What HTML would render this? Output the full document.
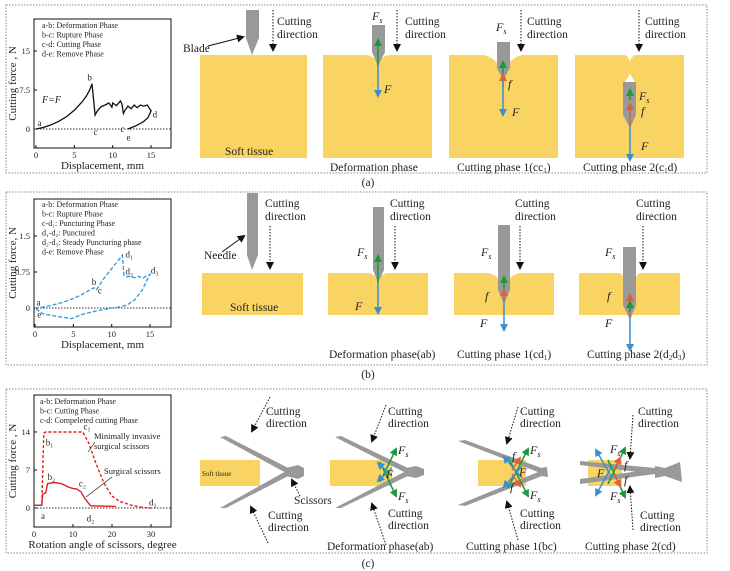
<!DOCTYPE html>
<html><head><meta charset="utf-8"><style>
html,body{margin:0;padding:0;background:#fff}
svg{display:block;font-family:"Liberation Serif",serif}
.t{font-size:11.5px;fill:#222}
.s{font-size:8.5px;fill:#222}
.it{font-style:italic;font-size:12px;fill:#222}
</style></head><body>
<svg id="fig" width="730" height="571" viewBox="0 0 730 571">
<defs>
<marker id="mk" markerWidth="8" markerHeight="8" refX="6" refY="4" orient="auto" markerUnits="userSpaceOnUse"><path d="M0,0 L8,4 L0,8Z" fill="#111"/></marker>
<marker id="mg" markerWidth="8" markerHeight="8" refX="6" refY="4" orient="auto" markerUnits="userSpaceOnUse"><path d="M0,0 L8,4 L0,8Z" fill="#1a9a3a"/></marker>
<marker id="mr" markerWidth="8" markerHeight="8" refX="6" refY="4" orient="auto" markerUnits="userSpaceOnUse"><path d="M0,0 L8,4 L0,8Z" fill="#e0603a"/></marker>
<marker id="mb" markerWidth="8" markerHeight="8" refX="6" refY="4" orient="auto" markerUnits="userSpaceOnUse"><path d="M0,0 L8,4 L0,8Z" fill="#3a8fd0"/></marker>
</defs>
<!-- panel borders -->
<rect x="6" y="5" width="701" height="168" fill="none" stroke="#888" stroke-dasharray="1.5,1.5"/>
<rect x="6" y="192" width="701" height="173" fill="none" stroke="#888" stroke-dasharray="1.5,1.5"/>
<rect x="6" y="389" width="701" height="164" fill="none" stroke="#888" stroke-dasharray="1.5,1.5"/>
<text class="t" x="368" y="186" text-anchor="middle">(a)</text>
<text class="t" x="368" y="378" text-anchor="middle">(b)</text>
<text class="t" x="368" y="567" text-anchor="middle">(c)</text>

<!-- ===== PANEL A illustrations ===== -->
<g>
<rect x="200" y="55" width="107" height="103" fill="#fad462"/>
<path d="M246,10 L259,10 L259,38 L252,55 L246,38Z" fill="#999"/>
<line x1="208" y1="46" x2="243" y2="37" stroke="#111" marker-end="url(#mk)"/>
<text class="t" x="183" y="52">Blade</text>
<line x1="273" y1="10" x2="273" y2="50" stroke="#111" stroke-dasharray="1.5,1.5" marker-end="url(#mk)"/>
<text class="t" x="277" y="25">Cutting</text><text class="t" x="277" y="38">direction</text>
<text class="t" x="225" y="155">Soft tissue</text>
</g>
<g>
<path d="M323,55 L366,55 Q376,56 378,66 Q380,56 390,55 L432,55 L432,158 L323,158Z" fill="#fad462"/>
<path d="M372,25 L385,25 L385,52 L378,66 L372,52Z" fill="#999"/>
<line x1="378" y1="66" x2="378" y2="40" stroke="#1a9a3a" stroke-width="1.5" marker-end="url(#mg)"/>
<line x1="378" y1="66" x2="378" y2="96" stroke="#3a8fd0" stroke-width="1.5" marker-end="url(#mb)"/>
<text class="it" x="372" y="20">F<tspan font-size="8" dy="3">s</tspan></text>
<text class="it" x="384" y="93">F</text>
<line x1="397" y1="10" x2="397" y2="50" stroke="#111" stroke-dasharray="1.5,1.5" marker-end="url(#mk)"/>
<text class="t" x="405" y="25">Cutting</text><text class="t" x="405" y="38">direction</text>
<text class="t" x="330" y="171">Deformation phase</text>
</g>
<g>
<path d="M449,55 L484,55 Q496,58 503,72 Q510,58 522,55 L558,55 L558,158 L449,158Z" fill="#fad462"/>
<path d="M497,42 L510,42 L510,68 L503,80 L497,68Z" fill="#999"/>
<line x1="503" y1="80" x2="503" y2="62" stroke="#1a9a3a" stroke-width="1.5" marker-end="url(#mg)"/>
<line x1="503" y1="88" x2="503" y2="75" stroke="#e0603a" stroke-width="1.5" marker-end="url(#mr)"/>
<line x1="503" y1="80" x2="503" y2="115" stroke="#3a8fd0" stroke-width="1.5" marker-end="url(#mb)"/>
<text class="it" x="496" y="31">F<tspan font-size="8" dy="3">s</tspan></text>
<text class="it" x="508" y="88">f</text>
<text class="it" x="512" y="116">F</text>
<line x1="521" y1="10" x2="521" y2="50" stroke="#111" stroke-dasharray="1.5,1.5" marker-end="url(#mk)"/>
<text class="t" x="527" y="25">Cutting</text><text class="t" x="527" y="38">direction</text>
<text class="t" x="457" y="171">Cutting phase 1(cc<tspan font-size="7" dy="2">1</tspan><tspan dy="-2">)</tspan></text>
</g>
<g>
<path d="M575,55 L625,55 Q629,57 630,62 Q631,57 635,55 L684,55 L684,158 L575,158Z" fill="#fad462"/>
<path d="M625,82 L630,74 L635,82Z" fill="#fff"/>
<path d="M623,82 L636,82 L636,115 L630,128 L623,115Z" fill="#999"/>
<line x1="630" y1="100" x2="630" y2="90" stroke="#1a9a3a" stroke-width="1.5" marker-end="url(#mg)"/>
<line x1="630" y1="126" x2="630" y2="104" stroke="#e0603a" stroke-width="1.5" marker-end="url(#mr)"/>
<line x1="630" y1="126" x2="630" y2="160" stroke="#3a8fd0" stroke-width="1.5" marker-end="url(#mb)"/>
<text class="it" x="639" y="100">F<tspan font-size="8" dy="3">s</tspan></text>
<text class="it" x="641" y="115">f</text>
<text class="it" x="641" y="150">F</text>
<line x1="639" y1="10" x2="639" y2="50" stroke="#111" stroke-dasharray="1.5,1.5" marker-end="url(#mk)"/>
<text class="t" x="645" y="25">Cutting</text><text class="t" x="645" y="38">direction</text>
<text class="t" x="583" y="171">Cutting phase 2(c<tspan font-size="7" dy="2">1</tspan><tspan dy="-2">d)</tspan></text>
</g>

<!-- ===== PANEL B illustrations ===== -->
<g>
<rect x="202" y="273" width="101" height="42" fill="#fad462"/>
<path d="M247,193 L258,193 L258,255 L252,270 L247,255Z" fill="#999"/>
<line x1="222" y1="252" x2="244" y2="236" stroke="#111" marker-end="url(#mk)"/>
<text class="t" x="204" y="259">Needle</text>
<line x1="270" y1="226" x2="270" y2="268" stroke="#111" stroke-dasharray="1.5,1.5" marker-end="url(#mk)"/>
<text class="t" x="265" y="207">Cutting</text><text class="t" x="265" y="220">direction</text>
<text class="t" x="230" y="311">Soft tissue</text>
</g>
<g>
<path d="M328,273 L368,273 Q376,274 378,283 Q380,274 388,273 L428,273 L428,315 L328,315Z" fill="#fad462"/>
<path d="M373,207 L384,207 L384,270 L378,283 L373,270Z" fill="#999"/>
<line x1="378" y1="283" x2="378" y2="256" stroke="#1a9a3a" stroke-width="1.5" marker-end="url(#mg)"/>
<line x1="378" y1="283" x2="378" y2="313" stroke="#3a8fd0" stroke-width="1.5" marker-end="url(#mb)"/>
<text class="it" x="357" y="256">F<tspan font-size="8" dy="3">s</tspan></text>
<text class="it" x="355" y="310">F</text>
<line x1="395" y1="226" x2="395" y2="268" stroke="#111" stroke-dasharray="1.5,1.5" marker-end="url(#mk)"/>
<text class="t" x="390" y="207">Cutting</text><text class="t" x="390" y="220">direction</text>
<text class="t" x="329" y="358">Deformation phase(ab)</text>
</g>
<g>
<path d="M454,273 L488,273 Q498,275 504,285 Q510,275 520,273 L554,273 L554,315 L454,315Z" fill="#fad462"/>
<path d="M498,225 L510,225 L510,290 L504,304 L498,290Z" fill="#999"/>
<line x1="504" y1="292" x2="504" y2="277" stroke="#1a9a3a" stroke-width="1.5" marker-end="url(#mg)"/>
<line x1="504" y1="302" x2="504" y2="290" stroke="#e0603a" stroke-width="1.5" marker-end="url(#mr)"/>
<line x1="504" y1="302" x2="504" y2="330" stroke="#3a8fd0" stroke-width="1.5" marker-end="url(#mb)"/>
<text class="it" x="481" y="256">F<tspan font-size="8" dy="3">s</tspan></text>
<text class="it" x="485" y="300">f</text>
<text class="it" x="480" y="327">F</text>
<line x1="520" y1="226" x2="520" y2="268" stroke="#111" stroke-dasharray="1.5,1.5" marker-end="url(#mk)"/>
<text class="t" x="515" y="207">Cutting</text><text class="t" x="515" y="220">direction</text>
<text class="t" x="457" y="358">Cutting phase 1(cd<tspan font-size="7" dy="2">1</tspan><tspan dy="-2">)</tspan></text>
</g>
<g>
<path d="M579,273 L620,273 Q623,274 623,278 L636,278 Q637,274 640,273 L680,273 L680,315 L579,315Z" fill="#fad462"/>
<path d="M623,247 L636,247 L636,305 L630,320 L623,305Z" fill="#999"/>
<line x1="630" y1="318" x2="630" y2="295" stroke="#e0603a" stroke-width="1.5" marker-end="url(#mr)"/>
<line x1="630" y1="312" x2="630" y2="302" stroke="#1a9a3a" stroke-width="1.5" marker-end="url(#mg)"/>
<line x1="630" y1="318" x2="630" y2="350" stroke="#3a8fd0" stroke-width="1.5" marker-end="url(#mb)"/>
<text class="it" x="605" y="256">F<tspan font-size="8" dy="3">s</tspan></text>
<text class="it" x="607" y="300">f</text>
<text class="it" x="605" y="327">F</text>
<line x1="643" y1="226" x2="643" y2="268" stroke="#111" stroke-dasharray="1.5,1.5" marker-end="url(#mk)"/>
<text class="t" x="636" y="207">Cutting</text><text class="t" x="636" y="220">direction</text>
<text class="t" x="587" y="358">Cutting phase 2(d<tspan font-size="7" dy="2">2</tspan><tspan dy="-2">d</tspan><tspan font-size="7" dy="2">3</tspan><tspan dy="-2">)</tspan></text>
</g>

<!-- ===== PANEL C illustrations ===== -->
<g>
<rect x="200" y="460" width="60" height="26" fill="#fad462"/>
<text x="202" y="476" font-size="7" fill="#222">Soft tissue</text>
<path d="M220,437 L226,436 L292,470 L288,474Z" fill="#999"/>
<path d="M220,508 L226,508 L292,474 L288,470Z" fill="#999"/>
<path d="M286,468 L298,465 L304,468 L304,476 L298,479 L286,476Z" fill="#999"/>
<line x1="270" y1="397" x2="252" y2="431" stroke="#111" stroke-dasharray="1.5,1.5" marker-end="url(#mk)"/>
<text class="t" x="266" y="415">Cutting</text><text class="t" x="266" y="427">direction</text>
<line x1="268" y1="543" x2="251" y2="507" stroke="#111" stroke-dasharray="1.5,1.5" marker-end="url(#mk)"/>
<text class="t" x="268" y="519">Cutting</text><text class="t" x="268" y="531">direction</text>
<line x1="300" y1="496" x2="292" y2="480" stroke="#111" stroke-dasharray="1.5,1.5" marker-end="url(#mk)"/>
<text class="t" x="294" y="504">Scissors</text>
</g>
<g>
<rect x="330" y="460" width="62" height="26" fill="#fad462"/>
<path d="M335,437 L341,436 L412,470 L408,474Z" fill="#999"/>
<path d="M335,508 L341,508 L412,474 L408,470Z" fill="#999"/>
<path d="M406,468 L416,466 L424,469 L424,475 L416,478 L406,476Z" fill="#999"/>
<line x1="380" y1="482" x2="396" y2="449" stroke="#1a9a3a" stroke-width="1.5" marker-end="url(#mg)"/>
<line x1="380" y1="462" x2="396" y2="496" stroke="#1a9a3a" stroke-width="1.5" marker-end="url(#mg)"/>
<line x1="392" y1="476" x2="378" y2="463" stroke="#3a8fd0" stroke-width="1.5" marker-end="url(#mb)"/>
<line x1="392" y1="468" x2="378" y2="481" stroke="#3a8fd0" stroke-width="1.5" marker-end="url(#mb)"/>
<text class="it" x="398" y="454">F<tspan font-size="8" dy="3">s</tspan></text>
<text class="it" x="398" y="500">F<tspan font-size="8" dy="3">s</tspan></text>
<text class="it" x="386" y="478">F</text>
<line x1="386" y1="405" x2="372" y2="441" stroke="#111" stroke-dasharray="1.5,1.5" marker-end="url(#mk)"/>
<text class="t" x="388" y="415">Cutting</text><text class="t" x="388" y="427">direction</text>
<line x1="386" y1="545" x2="372" y2="504" stroke="#111" stroke-dasharray="1.5,1.5" marker-end="url(#mk)"/>
<text class="t" x="388" y="517">Cutting</text><text class="t" x="388" y="529">direction</text>
<text class="t" x="327" y="550">Deformation phase(ab)</text>
</g>
<g>
<rect x="478" y="460" width="48" height="26" fill="#fad462"/>
<path d="M458,441 L465,440 L547,470 L543,474Z" fill="#999"/>
<path d="M458,505 L465,506 L547,474 L543,470Z" fill="#999"/>
<path d="M540,468 L547,467 L548,477 L540,476Z" fill="#999"/>
<line x1="508" y1="488" x2="528" y2="449" stroke="#1a9a3a" stroke-width="1.5" marker-end="url(#mg)"/>
<line x1="508" y1="457" x2="528" y2="496" stroke="#1a9a3a" stroke-width="1.5" marker-end="url(#mg)"/>
<line x1="522" y1="478" x2="504" y2="457" stroke="#3a8fd0" stroke-width="1.5" marker-end="url(#mb)"/>
<line x1="522" y1="466" x2="504" y2="487" stroke="#3a8fd0" stroke-width="1.5" marker-end="url(#mb)"/>
<line x1="512" y1="470" x2="520" y2="458" stroke="#e0603a" stroke-width="1.5" marker-end="url(#mr)"/>
<line x1="512" y1="474" x2="520" y2="486" stroke="#e0603a" stroke-width="1.5" marker-end="url(#mr)"/>
<text class="it" x="530" y="454">F<tspan font-size="8" dy="3">s</tspan></text>
<text class="it" x="530" y="499">F<tspan font-size="8" dy="3">s</tspan></text>
<text class="it" x="519" y="476">F</text>
<text class="it" x="512" y="460">f</text>
<text class="it" x="510" y="491">f</text>
<line x1="518" y1="407" x2="507" y2="443" stroke="#111" stroke-dasharray="1.5,1.5" marker-end="url(#mk)"/>
<text class="t" x="520" y="415">Cutting</text><text class="t" x="520" y="427">direction</text>
<line x1="518" y1="540" x2="507" y2="502" stroke="#111" stroke-dasharray="1.5,1.5" marker-end="url(#mk)"/>
<text class="t" x="520" y="517">Cutting</text><text class="t" x="520" y="529">direction</text>
<text class="t" x="466" y="550">Cutting phase 1(bc)</text>
</g>
<g>
<rect x="588" y="460" width="34" height="26" fill="#fad462"/>
<path d="M580,461 L655,468 L655,474 L580,465Z" fill="#999"/>
<path d="M580,484 L655,474 L655,469 L580,479Z" fill="#999"/>
<path d="M655,466 L665,468 L680,462 L682,482 L665,476 L655,478Z" fill="#999"/>
<line x1="608" y1="484" x2="625" y2="448" stroke="#1a9a3a" stroke-width="1.5" marker-end="url(#mg)"/>
<line x1="608" y1="460" x2="625" y2="497" stroke="#1a9a3a" stroke-width="1.5" marker-end="url(#mg)"/>
<line x1="612" y1="478" x2="596" y2="450" stroke="#3a8fd0" stroke-width="1.5" marker-end="url(#mb)"/>
<line x1="612" y1="466" x2="596" y2="495" stroke="#3a8fd0" stroke-width="1.5" marker-end="url(#mb)"/>
<line x1="614" y1="470" x2="620" y2="458" stroke="#e0603a" stroke-width="1.5" marker-end="url(#mr)"/>
<line x1="614" y1="474" x2="620" y2="486" stroke="#e0603a" stroke-width="1.5" marker-end="url(#mr)"/>
<text class="it" x="610" y="453">F<tspan font-size="8" dy="3">s</tspan></text>
<text class="it" x="610" y="500">F<tspan font-size="8" dy="3">s</tspan></text>
<text class="it" x="597" y="477">F</text>
<text class="it" x="624" y="469">f</text>
<text class="it" x="624" y="484">f</text>
<line x1="633" y1="415" x2="630" y2="458" stroke="#111" stroke-dasharray="1.5,1.5" marker-end="url(#mk)"/>
<text class="t" x="638" y="415">Cutting</text><text class="t" x="638" y="427">direction</text>
<line x1="633" y1="530" x2="630" y2="487" stroke="#111" stroke-dasharray="1.5,1.5" marker-end="url(#mk)"/>
<text class="t" x="640" y="519">Cutting</text><text class="t" x="640" y="531">direction</text>
<text class="t" x="585" y="550">Cutting phase 2(cd)</text>
</g>
<g id="charts"></g>
</svg>
<script>
// ---- Chart (a) data ----
const aXTicks=[0,5,10,15];
const aYTicks=[0,7.5,15];
const aDisp=[0,1,2,3,4,5,6,6.5,7,7.3,7.7,8,8.5,9,9.5,9.7,9.9,10,10.5,11,11.2,11.4,11.6,12,12.4,12.8,13.2,13.6,14,14.5,15,14.6,14,13,12];
const aForce=[0,0.3,0.8,1.5,2.4,3.6,5.2,6.2,7.5,8.7,2.7,3.5,4.3,4.6,5,4.6,4.2,5,4.5,5.4,4.8,3.0,3.6,4.4,3.9,4.6,4.1,4.6,4.4,4.6,3.5,2.2,1.4,0.6,0];
// ---- Chart (b) data ----
const bXTicks=[0,5,10,15];
const bYTicks=[0,0.75,1.5];
const bDisp=[0,1,2,3,4,5,6,7,7.7,8,9,10,11,11.4,11.6,12,12.5,13,13.5,14,14.5,15,14.5,14,13,12,11,10,8,6,4.8,3,1,0];
const bForce=[0,0.02,0.05,0.09,0.14,0.2,0.27,0.36,0.42,0.38,0.62,0.82,1.02,1.1,0.68,0.65,0.66,0.63,0.66,0.62,0.66,0.7,0.55,0.38,0.17,0.06,0.02,0,-0.06,-0.14,-0.22,-0.18,-0.12,0];
// ---- Chart (c) data ----
const cXTicks=[0,10,20,30];
const cYTicks=[0,7,14];
const cAngleMis=[0,2,2.5,3,5,10,12.5,14,16,18,20,22,25,28,30];
const cForceMis=[0.5,0.5,13.8,14,14,14,14,12,8,4.5,2.2,1.2,0.5,0.1,0];
const cAngleSur=[0,2,2.2,3,3.5,5,7,9,10,11,12,13,14.5,21];
const cForceSur=[0.5,0.5,2.5,2.8,4.5,4.7,4.5,3.8,3.6,3.5,3,1.8,0.4,0.3];

const NS='http://www.w3.org/2000/svg';
const root=document.getElementById('charts');
function mk(tag,attrs,parent){const e=document.createElementNS(NS,tag);for(const k in attrs)e.setAttribute(k,attrs[k]);(parent||root).appendChild(e);return e;}
function txt(s,x,y,size,parent,anchor){const e=mk('text',{x:x,y:y,'font-size':size,fill:'#222'},parent);if(anchor)e.setAttribute('text-anchor',anchor);e.textContent=s;return e;}

function chart(name,box,xs,ys,xt,yt,xlabel,ylabel){
  const g=mk('g',{});
  
  
  const r=mk('rect',{x:box[0],y:box[1],width:box[2]-box[0],height:box[3]-box[1],fill:'none',stroke:'#111','stroke-width':1},g);
  
  
  xt.forEach(v=>{mk('line',{x1:xs(v),x2:xs(v),y1:box[3],y2:box[3]-3,stroke:'#111'},g);
    const t=txt(String(v),xs(v),box[3]+10,8.5,g,'middle');
    
    });
  yt.forEach(v=>{mk('line',{x1:box[0],x2:box[0]+3,y1:ys(v),y2:ys(v),stroke:'#111'},g);
    const t=txt(String(v),box[0]-4,ys(v)+3,8.5,g,'end');
    
    });
  mk('line',{x1:box[0],x2:box[2],y1:ys(0),y2:ys(0),stroke:'#333','stroke-dasharray':'1.5,1.5'},g);
  const xl=txt(xlabel,(box[0]+box[2])/2,box[3]+21,11,g,'middle');
  
  
  const cy=(box[1]+box[3])/2;
  const yl=txt(ylabel,16,cy,11,g,'middle');
  yl.setAttribute('transform','rotate(-90 16 '+cy+')');
  
  
  return g;
}
function line(g,xs,ys,X,Y,color,dash,w,name){
  const pts=X.map((v,i)=>xs(v).toFixed(1)+','+ys(Y[i]).toFixed(1)).join(' ');
  const p=mk('polyline',{points:pts,fill:'none',stroke:color,'stroke-width':w},g);
  if(dash)p.setAttribute('stroke-dasharray',dash);
  
  
}
// Chart a
const axs=v=>36+v*7.67, ays=v=>129-v*5.2;
const ga=chart('chart-a',[34,19,171,148],axs,ays,aXTicks,aYTicks,'Displacement, mm','Cutting force , N');
line(ga,axs,ays,aDisp,aForce,'#111',null,1.3,'force-curve-blade');
['a-b: Deformation Phase','b-c: Rupture Phase','c-d: Cutting Phase','d-e: Remove Phase'].forEach((s,i)=>txt(s,42,28+i*9.5,8,ga));
txt('b',axs(6.7),ays(9.3),9,ga);txt('c',axs(7.5),ays(-1.2),9,ga);txt('a',axs(0.2),ays(0.6),9,ga);
txt('c',axs(11),ays(-0.6),9,ga);txt('d',axs(15.2),ays(2.2),9,ga);txt('e',axs(11.8),ays(-2.2),9,ga);
const fa=txt('F=F',42,ays(5),10,ga);fa.setAttribute('font-style','italic');
// Chart b
const bxs=v=>35+v*7.67, bys=v=>308-v*48;
const gb=chart('chart-b',[34,199,171,327],bxs,bys,bXTicks,bYTicks,'Displacement, mm','Cutting force, N');
line(gb,bxs,bys,bDisp,bForce,'#2a9ad6','4,2',1.3,'force-curve-needle');
['a-b: Deformation Phase','b-c: Rupture Phase','c-d\u2081: Puncturing Phase','d\u2081-d\u2082: Punctured','d\u2082-d\u2083: Steady Puncturing phase','d-e: Remove Phase'].forEach((s,i)=>txt(s,42,207+i*9.5,8,gb));
txt('b',bxs(7.4),bys(0.48),9,gb);txt('c',bxs(8.2),bys(0.3),9,gb);txt('a',bxs(0.2),bys(0.05),9,gb);txt('e',bxs(0.3),bys(-0.2),9,gb);
txt('d\u2081',bxs(11.8),bys(1.05),9,gb);txt('d\u2082',bxs(11.8),bys(0.7),9,gb);txt('d\u2083',bxs(15.1),bys(0.72),9,gb);
// Chart c
const cxs=v=>34+v*3.9, cys=v=>508-v*5.43;
const gc=chart('chart-c',[34,395,171,527],cxs,cys,cXTicks,cYTicks,'Rotation angle of  scissors, degree','Cutting force , N');
line(gc,cxs,cys,cAngleMis,cForceMis,'#e02020','3,2',1.4,'force-curve-mis-scissors');
line(gc,cxs,cys,cAngleSur,cForceSur,'#e02020',null,1.4,'force-curve-surgical-scissors');
['a-b: Deformation Phase','b-c: Cutting Phase','c-d: Compeleted cutting Phase'].forEach((s,i)=>txt(s,40,404+i*9.5,8,gc));
txt('b\u2081',cxs(3),cys(11.5),9,gc);txt('c\u2081',cxs(12.7),cys(14.5),9,gc);txt('d\u2081',cxs(29.5),cys(0.5),9,gc);
txt('b\u2082',cxs(3.5),cys(5.2),9,gc);txt('c\u2082',cxs(11.5),cys(4),9,gc);txt('d\u2082',cxs(13.5),cys(-2.5),9,gc);txt('a',cxs(1.8),cys(-2),9,gc);
txt('Minimally invasive',94,439,8.5,gc);txt('surgical scissors',94,449,8.5,gc);
mk('line',{x1:95,y1:442,x2:88,y2:452,stroke:'#111','stroke-width':0.6},gc);
txt('Surgical scissors',104,474,8.5,gc);
mk('line',{x1:112,y1:477,x2:86,y2:497,stroke:'#111','stroke-width':0.6},gc);
</script>
</body></html>
